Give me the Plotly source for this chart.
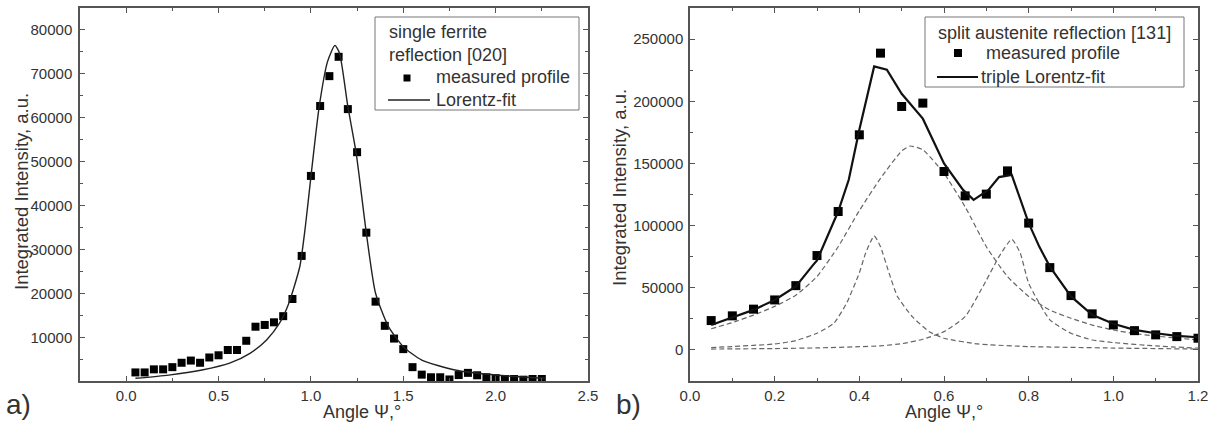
import plotly.graph_objects as go

# ---------------- Panel a) data ----------------
a_meas_x = [0.05, 0.10, 0.15, 0.20, 0.25, 0.30, 0.35, 0.40, 0.45, 0.50,
            0.55, 0.60, 0.65, 0.70, 0.75, 0.80, 0.85, 0.90, 0.95, 1.00,
            1.05, 1.10, 1.15, 1.20, 1.25, 1.30, 1.35, 1.40, 1.45, 1.50,
            1.55, 1.60, 1.65, 1.70, 1.75, 1.80, 1.85, 1.90, 1.95, 2.00,
            2.05, 2.10, 2.15, 2.20, 2.25]
a_meas_y = [2100, 2100, 2800, 2800, 3300, 4300, 4800, 4300, 5500, 6000,
            7200, 7200, 9300, 12500, 12900, 13500, 14900, 18800, 28600, 46800,
            62700, 69500, 73900, 62000, 52200, 33900, 18200, 12700, 9800, 7400,
            3300, 1600, 1000, 1000, 500, 1500, 2000, 1450, 1000, 800,
            600, 600, 450, 600, 600]

a_fit_x = [0.05, 0.23, 0.41, 0.56, 0.67, 0.76, 0.83, 0.88, 0.94, 0.97,
           1.00, 1.045, 1.09, 1.13, 1.155, 1.20, 1.245, 1.30, 1.35, 1.42,
           1.50, 1.60, 1.78, 2.00, 2.27]
a_fit_y = [760, 1500, 2650, 4200, 6450, 9500, 13300, 17800, 26200, 35300,
           46600, 62600, 72800, 76500, 74700, 62600, 52000, 33800, 20100, 12500,
           7950, 4900, 2650, 1500, 760]

# ---------------- Panel b) data ----------------
b_meas_x = [0.05, 0.10, 0.15, 0.20, 0.25, 0.30, 0.35, 0.40, 0.45, 0.50,
            0.55, 0.60, 0.65, 0.70, 0.75, 0.80, 0.85, 0.90, 0.95, 1.00,
            1.05, 1.10, 1.15, 1.20]
b_meas_y = [23600, 27400, 32800, 40200, 51700, 75900, 111300, 173000, 238700, 195800,
            198500, 143500, 123900, 125300, 144000, 102000, 66200, 43700, 29000, 20100,
            15500, 12100, 10700, 9400]

b_fit_x = [0.05, 0.10, 0.15, 0.20, 0.25, 0.29, 0.30, 0.35, 0.375, 0.40,
           0.435, 0.465, 0.50, 0.55, 0.60, 0.645, 0.67, 0.705, 0.73, 0.76,
           0.80, 0.825, 0.85, 0.90, 0.95, 1.00, 1.05, 1.10, 1.15, 1.20]
b_fit_y = [20100, 26000, 32200, 40200, 51000, 68000, 72000, 111300, 136800, 177000,
           228000, 225300, 206000, 186000, 150000, 128700, 120700, 128700, 139000, 140800,
           102000, 83100, 67000, 43000, 28200, 21000, 16100, 13400, 11300, 10200]

b_broad_x = [0.05, 0.10, 0.15, 0.20, 0.25, 0.30, 0.35, 0.40, 0.45, 0.50,
             0.52, 0.55, 0.60, 0.65, 0.70, 0.75, 0.80, 0.85, 0.90, 0.95,
             1.00, 1.05, 1.10, 1.15, 1.20]
b_broad_y = [17000, 22000, 28000, 35000, 44000, 59000, 83000, 112000, 138000, 160000,
             164000, 161000, 142000, 115000, 83000, 59000, 43000, 32000, 25500, 20000,
             16000, 13200, 11200, 9500, 8000]

b_left_x = [0.05, 0.10, 0.20, 0.25, 0.30, 0.34, 0.37, 0.40, 0.415, 0.435,
            0.45, 0.47, 0.49, 0.525, 0.565, 0.60, 0.68, 0.80, 1.00, 1.20]
b_left_y = [1900, 2700, 4800, 7500, 13400, 21500, 37600, 62000, 78000, 91700,
            83000, 62000, 43000, 26800, 14700, 9400, 4800, 2700, 1500, 700]

b_right_x = [0.05, 0.20, 0.30, 0.40, 0.45, 0.50, 0.55, 0.60, 0.65, 0.70,
             0.73, 0.76, 0.78, 0.80, 0.85, 0.90, 0.95, 1.00, 1.10, 1.20]
b_right_y = [700, 1100, 1600, 2600, 3300, 5000, 8600, 14700, 26800, 56000,
             75000, 89000, 78000, 53700, 24200, 13400, 8000, 5900, 3200, 1400]

# legend texts
a_legend_title = ["single ferrite", "reflection [020]"]
a_legend_items = ["measured profile", "Lorentz-fit"]
b_legend_title = ["split austenite reflection [131]"]
b_legend_items = ["measured profile", "triple Lorentz-fit"]

FONT = "Liberation Sans, Arial, sans-serif"
TXT = "#333333"
AX = "#555555"
DASH = "#666666"

W, H = 1217, 425


def px(x):
    return x / W


def py(y):
    return 1 - y / H


fig = go.Figure()

# panel a
fig.add_trace(go.Scatter(x=a_meas_x, y=a_meas_y, mode="markers", name=a_legend_items[0],
                         marker=dict(symbol="square", size=8, color="black"),
                         xaxis="x", yaxis="y", showlegend=False))
fig.add_trace(go.Scatter(x=a_fit_x, y=a_fit_y, mode="lines", name=a_legend_items[1],
                         line=dict(color="#222222", width=1.4, shape="spline", smoothing=0.6),
                         xaxis="x", yaxis="y", showlegend=False))

# panel b
for xs, ys in [(b_broad_x, b_broad_y), (b_left_x, b_left_y), (b_right_x, b_right_y)]:
    fig.add_trace(go.Scatter(x=xs, y=ys, mode="lines", showlegend=False,
                             line=dict(color=DASH, width=1.2, dash="5px,3px", shape="spline", smoothing=0.5),
                             xaxis="x2", yaxis="y2"))
fig.add_trace(go.Scatter(x=b_meas_x, y=b_meas_y, mode="markers", name=b_legend_items[0],
                         marker=dict(symbol="square", size=9, color="black"),
                         xaxis="x2", yaxis="y2", showlegend=False))
fig.add_trace(go.Scatter(x=b_fit_x, y=b_fit_y, mode="lines", name=b_legend_items[1],
                         line=dict(color="#111111", width=2.2),
                         xaxis="x2", yaxis="y2", showlegend=False))

axis_common = dict(showline=True, linecolor=AX, linewidth=1.5, mirror="allticks",
                   ticks="inside", ticklen=5, tickwidth=1.2, tickcolor=AX,
                   showgrid=False, zeroline=False, automargin=False,
                   tickfont=dict(family=FONT, size=15, color=TXT))

fig.update_layout(
    width=W, height=H,
    margin=dict(l=0, r=0, t=0, b=0, autoexpand=False),
    paper_bgcolor="white", plot_bgcolor="white",
    font=dict(family=FONT, color=TXT),
    showlegend=False,
    xaxis=dict(domain=[px(80), px(588)], range=[-0.25, 2.5], dtick=0.5, tick0=0,
               tickformat=".1f", anchor="y",
               minor=dict(dtick=0.25, ticks="inside", ticklen=3, tickcolor=AX), **axis_common),
    yaxis=dict(domain=[py(381), py(8)], range=[150, 85000], dtick=10000, tick0=0,
               tickformat="d", anchor="x", ticklabelstandoff=3,
               minor=dict(dtick=5000, ticks="inside", ticklen=3, tickcolor=AX), **axis_common),
    xaxis2=dict(domain=[px(690), px(1198)], range=[0, 1.2], dtick=0.2, tick0=0,
                tickformat=".1f", anchor="y2",
                minor=dict(dtick=0.1, ticks="inside", ticklen=3, tickcolor=AX), **axis_common),
    yaxis2=dict(domain=[py(381), py(8)], range=[-25000, 275000], dtick=50000, tick0=0,
                tickformat="d", anchor="x2", ticklabelstandoff=2,
                minor=dict(dtick=25000, ticks="inside", ticklen=3, tickcolor=AX), **axis_common),
)

shapes = []
annotations = []


def txt(text, x, y, size=18, anchor="left", angle=0):
    annotations.append(dict(text=text, x=px(x), y=py(y), xref="paper", yref="paper",
                            showarrow=False, xanchor=anchor, yanchor="middle",
                            textangle=angle, font=dict(family=FONT, size=size, color=TXT)))


# legend a
shapes.append(dict(type="rect", xref="paper", yref="paper", x0=px(375), x1=px(579),
                   y0=py(110), y1=py(17), line=dict(color="#777777", width=1), fillcolor="white"))
txt(a_legend_title[0], 387, 32)
txt(a_legend_title[1], 387, 55)
shapes.append(dict(type="rect", xref="paper", yref="paper", x0=px(403.5), x1=px(410.5),
                   y0=py(81.5), y1=py(74.5), line=dict(width=0), fillcolor="black"))
txt(a_legend_items[0], 434, 77)
shapes.append(dict(type="line", xref="paper", yref="paper", x0=px(388), x1=px(430),
                   y0=py(100), y1=py(100), line=dict(color="#222222", width=1.4)))
txt(a_legend_items[1], 434, 100)

# legend b
shapes.append(dict(type="rect", xref="paper", yref="paper", x0=px(925), x1=px(1184),
                   y0=py(87), y1=py(17), line=dict(color="#777777", width=1), fillcolor="white"))
txt(b_legend_title[0], 936, 33)
shapes.append(dict(type="rect", xref="paper", yref="paper", x0=px(954), x1=px(962),
                   y0=py(57), y1=py(49), line=dict(width=0), fillcolor="black"))
txt(b_legend_items[0], 984, 53)
shapes.append(dict(type="line", xref="paper", yref="paper", x0=px(937), x1=px(978),
                   y0=py(77), y1=py(77), line=dict(color="#111111", width=2.2)))
txt(b_legend_items[1], 979, 77)

# axis titles and panel labels
txt("Integrated Intensity, a.u.", 21, 192, size=18.5, anchor="center", angle=-90)
txt("Integrated Intensity, a.u.", 619, 188, size=18.5, anchor="center", angle=-90)
txt("Angle Ψ,°", 362, 412, size=18, anchor="center")
txt("Angle Ψ,°", 944, 412, size=18, anchor="center")
txt("a)", 4, 404, size=28)
txt("b)", 614, 404, size=28)

fig.update_layout(shapes=shapes, annotations=annotations)

fig.write_html("out.html", config={"displayModeBar": False},
               post_script="document.body.style.margin='0';")
